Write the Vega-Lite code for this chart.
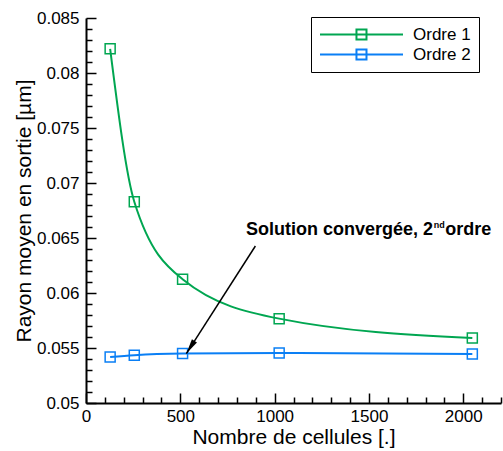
{
  "$schema": "https://vega.github.io/schema/vega-lite/v6.json",
  "autosize": "none",
  "width": 415,
  "height": 385,
  "padding": {"left": 86, "top": 18, "right": 2, "bottom": 48},
  "background": "white",
  "config": {
    "view": {"stroke": null},
    "font": "Liberation Sans",
    "axis": {
      "grid": false,
      "domainColor": "black",
      "domainWidth": 2,
      "tickColor": "black",
      "tickWidth": 1.5,
      "labelFont": "Liberation Sans",
      "labelFontSize": 17,
      "labelColor": "black",
      "titleFont": "Liberation Sans",
      "titleFontSize": 21,
      "titleFontWeight": "normal",
      "titleColor": "black",
      "labelFlush": false,
      "labelOverlap": false
    }
  },
  "datasets": {
    "main": [
      {"n": 128, "r": 0.0822, "ordre": "Ordre 1"},
      {"n": 256, "r": 0.0683, "ordre": "Ordre 1"},
      {"n": 512, "r": 0.06125, "ordre": "Ordre 1"},
      {"n": 1024, "r": 0.05767, "ordre": "Ordre 1"},
      {"n": 2048, "r": 0.0559, "ordre": "Ordre 1"},
      {"n": 128, "r": 0.05418, "ordre": "Ordre 2"},
      {"n": 256, "r": 0.05434, "ordre": "Ordre 2"},
      {"n": 512, "r": 0.05449, "ordre": "Ordre 2"},
      {"n": 1024, "r": 0.05455, "ordre": "Ordre 2"},
      {"n": 2048, "r": 0.05445, "ordre": "Ordre 2"}
    ],
    "arrow": [
      {"n": 898, "r": 0.06427, "n2": 532, "r2": 0.05449}
    ],
    "head": [
      {"n": 532, "r": 0.05449}
    ],
    "labels": [
      {"n": 848, "r": 0.06525, "t": "Solution convergée, 2"},
      {"n": 1905, "r": 0.06525, "t": "ordre"}
    ],
    "sup": [
      {"n": 1843, "r": 0.06588, "t": "nd"}
    ]
  },
  "encoding": {
    "x": {
      "field": "n", "type": "quantitative",
      "scale": {"domain": [0, 2200], "nice": false, "zero": false},
      "axis": {
        "title": "Nombre de cellules [.]",
        "values": [0,100,200,300,400,500,600,700,800,900,1000,1100,1200,1300,1400,1500,1600,1700,1800,1900,2000,2100,2200],
        "labelExpr": "datum.value % 500 === 0 ? format(datum.value, 'd') : ''",
        "tickSize": {"condition": {"test": "datum.value % 500 === 0", "value": -10}, "value": -6},
        "labelPadding": 15,
        "titlePadding": -2
      }
    },
    "y": {
      "field": "r", "type": "quantitative",
      "scale": {"domain": [0.05, 0.085], "nice": false, "zero": false},
      "axis": {
        "title": "Rayon moyen en sortie [µm]",
        "values": [0.05,0.051,0.052,0.053,0.054,0.055,0.056,0.057,0.058,0.059,0.06,0.061,0.062,0.063,0.064,0.065,0.066,0.067,0.068,0.069,0.07,0.071,0.072,0.073,0.074,0.075,0.076,0.077,0.078,0.079,0.08,0.081,0.082,0.083,0.084,0.085],
        "labelExpr": "round(datum.value*1000) % 5 === 0 ? format(datum.value, '') : ''",
        "tickSize": {"condition": {"test": "round(datum.value*1000) % 5 === 0", "value": -10}, "value": -6},
        "labelPadding": 17,
        "titlePadding": 2
      }
    }
  },
  "layer": [
    {
      "data": {"name": "main"},
      "mark": {"type": "line", "interpolate": "monotone", "strokeWidth": 2},
      "encoding": {
        "color": {
          "field": "ordre", "type": "nominal",
          "scale": {"domain": ["Ordre 1", "Ordre 2"], "range": ["#00a651", "#0a7ff5"]},
          "legend": {
            "title": null,
            "orient": "none",
            "legendX": 225,
            "legendY": -1,
            "strokeColor": "black",
            "fillColor": "white",
            "padding": 8,
            "symbolType": "M-1,0H8.765M3.29,-0.588H4.47V0.588H3.29Z",
            "symbolSize": 289,
            "symbolStrokeWidth": 2,
            "symbolFillColor": "transparent",
            "labelFont": "Liberation Sans",
            "labelFontSize": 17,
            "labelColor": "black",
            "labelOffset": 75,
            "rowPadding": 1
          }
        }
      }
    },
    {
      "data": {"name": "main"},
      "mark": {"type": "point", "shape": "square", "filled": false, "size": 100, "strokeWidth": 1.5, "opacity": 1},
      "encoding": {
        "color": {"field": "ordre", "type": "nominal"}
      }
    },
    {
      "data": {"name": "arrow"},
      "mark": {"type": "rule", "color": "black", "strokeWidth": 1.5},
      "encoding": {
        "x2": {"field": "n2"},
        "y2": {"field": "r2"}
      }
    },
    {
      "data": {"name": "head"},
      "mark": {"type": "point", "shape": "M0,0L-0.4,2L0.4,2Z", "filled": true, "color": "black", "size": 225, "angle": 212.6, "opacity": 1},
      "encoding": {}
    },
    {
      "data": {"name": "labels"},
      "mark": {"type": "text", "align": "left", "baseline": "alphabetic", "font": "Liberation Sans", "fontWeight": "bold", "fontSize": 18, "color": "black"},
      "encoding": {
        "text": {"field": "t"}
      }
    },
    {
      "data": {"name": "sup"},
      "mark": {"type": "text", "align": "left", "baseline": "alphabetic", "font": "Liberation Sans", "fontWeight": "bold", "fontSize": 9, "color": "black"},
      "encoding": {
        "text": {"field": "t"}
      }
    }
  ]
}
